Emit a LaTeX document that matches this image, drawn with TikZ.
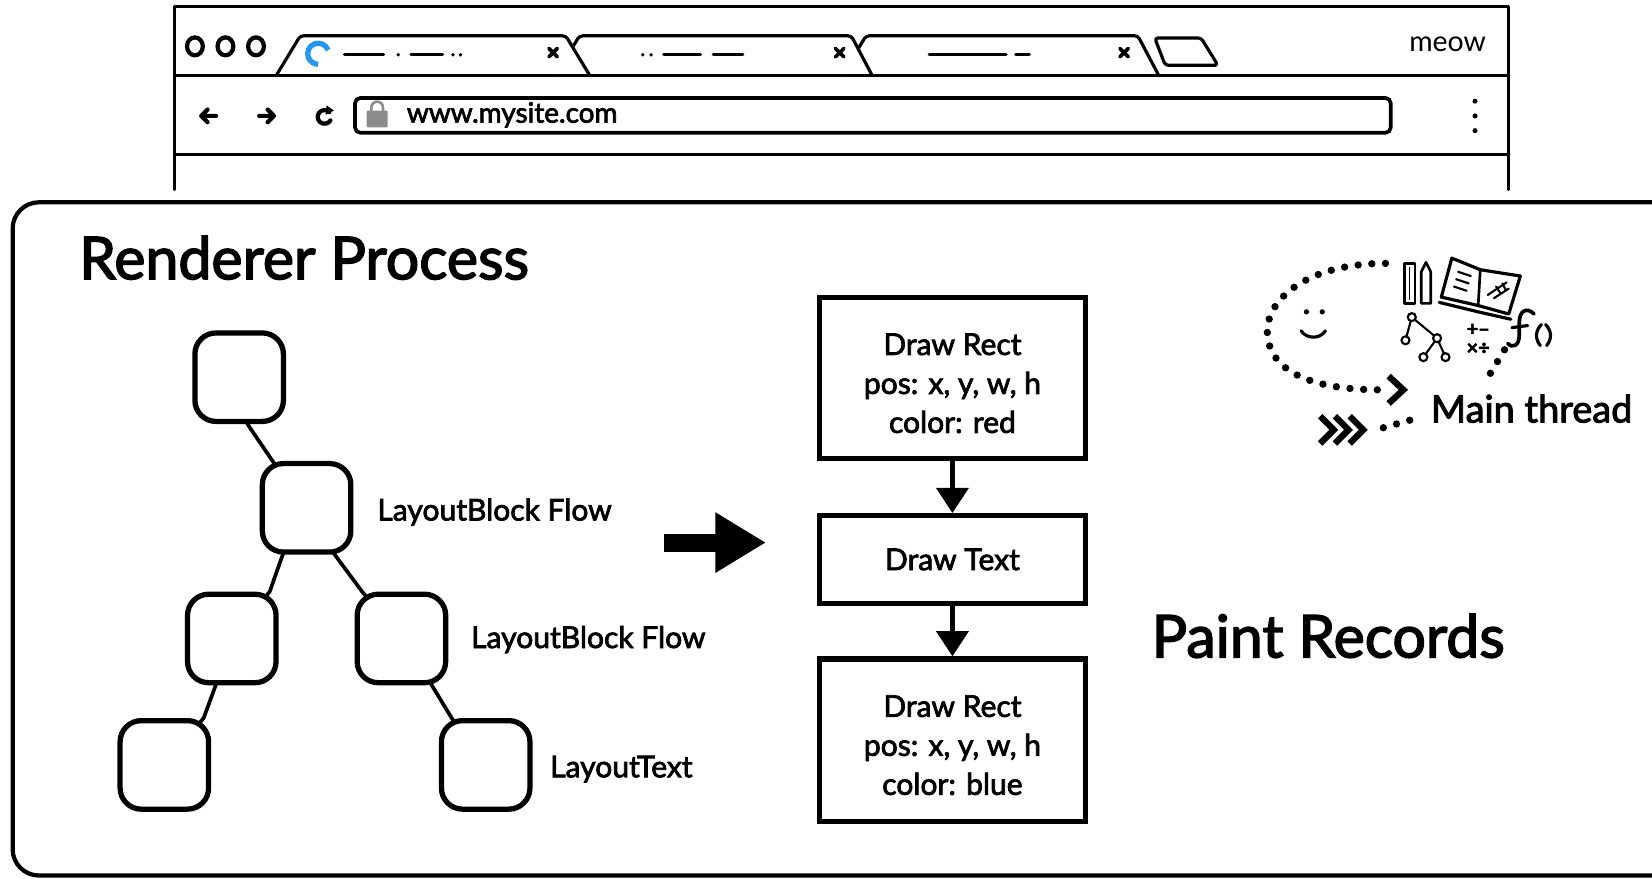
\documentclass[tikz,border=0pt]{standalone}
\usepackage{fontspec}
\setmainfont{Lato}[FakeBold=2.5]
\newfontfamily\handfont{Lato}
\usetikzlibrary{arrows.meta,backgrounds}
\definecolor{spinblue}{RGB}{33,150,243}
\definecolor{lockgray}{RGB}{140,140,140}

\begin{document}
\begin{tikzpicture}[x=1pt,y=-1pt,
  win/.style={line width=3pt, line join=round, line cap=round},
  tabshape/.style={win, fill=white, rounded corners=3pt},
  tabmark/.style={line width=3pt, line cap=round},
  xmark/.style={line width=3.5pt, line cap=round},
  navicon/.style={line width=4pt, line cap=round, line join=round},
  treebox/.style={draw, line width=5pt, fill=white, rounded corners=20pt,
    minimum width=84pt, minimum height=84pt, inner sep=0pt},
  branch/.style={line width=3.5pt},
  rec/.style={draw, line width=5pt, fill=white, minimum width=253pt,
    align=center, inner sep=0pt, font=\fontsize{28.5}{37}\selectfont},
  lbl/.style={anchor=west, inner sep=0pt, font=\fontsize{28.5}{32}\selectfont},
  heading/.style={anchor=base west, inner sep=0pt, font=\fontsize{56}{62}\selectfont},
  flow/.style={line width=5pt, -{Triangle[width=30pt,length=24pt]}},
  dotline/.style={line width=7pt, line cap=round, dash pattern=on 0pt off 13pt},
  chev/.style={line width=6pt, line join=miter, line cap=butt},
  sketch/.style={line width=2.5pt, line join=round, line cap=round}
]
\useasboundingbox (0,0) rectangle (1568,834);

% ---- browser window frame ----
\draw[win] (166,180) -- (166,6) -- (1432,6) -- (1432,180);
\draw[win] (166,147) -- (1432,147);

% traffic lights
\foreach \cx in {185,214,243}
  \draw[line width=4pt] (\cx,44) ellipse (7.5 and 8.5);

% tabs, back to front
\draw[tabshape] (799,72) -- (822,34) -- (1080,34) -- (1100,72);
\draw[tabshape] (527,72) -- (550,34) -- (808,34) -- (828,72);
\draw[tabshape] (262,72) -- (285,34) -- (537,34) -- (560,72);
\draw[win, rounded corners=3pt] (1096,36) -- (1140,36) -- (1156,62) -- (1106,62) -- cycle;
\draw[win] (166,72) -- (1432,72);

% tab contents
\draw[spinblue, line width=5pt] (302,51) ++(-20:10) arc (-20:-270:10);
\draw[tabmark] (327,52) -- (364,52);
\fill (378,52) circle (1.8);
\draw[tabmark] (390,52) -- (420,52);
\fill (430,52) circle (1.8);
\fill (437,52) circle (1.8);
\fill (610,52) circle (1.8);
\fill (618,52) circle (1.8);
\draw[tabmark] (630,52) -- (665,52);
\draw[tabmark] (677,52) -- (705,52);
\draw[tabmark] (882,52) -- (955,52);
\draw[tabmark] (964,52) -- (977,52);
\foreach \cx in {525,797,1067}
  \draw[xmark] (\cx-4,46) -- (\cx+4,54) (\cx+4,46) -- (\cx-4,54);

% toolbar
\draw[navicon] (205,110) -- (191,110) (197,104) -- (191,110) -- (197,116);
\draw[navicon] (246,110) -- (260,110) (254,104) -- (260,110) -- (254,116);
\draw[navicon] (308,111) ++(-45:6.5) arc (-45:-330:6.5);
\fill (310,100) -- (317,105) -- (309,109) -- cycle;
\draw[line width=3.5pt, rounded corners=5pt] (337,93) rectangle (1320,126);
\fill[lockgray, rounded corners=1pt] (348,105) rectangle (368,121);
\draw[lockgray, line width=2.5pt] (352.5,106) -- (352.5,102) arc (180:360:5.5) -- (363.5,106);
\node[anchor=west, inner sep=0pt, font=\fontsize{26.5}{30}\selectfont] (url) at (386,109) {www.mysite.com};
\foreach \cy in {96,110,124}
  \fill (1400,\cy) circle (2.4);
\node[font=\handfont\fontsize{27}{30}\selectfont, inner sep=0pt] (meow) at (1374,42) {meow};

% ---- renderer process panel ----
\draw[line width=4pt, rounded corners=25pt] (12,192) rectangle (1640,831);
\node[heading] (title) at (75,265) {Renderer Process};

% layout tree
\node[treebox] (root) at (227,358) {};
\node[treebox] (n2) at (291,482) {};
\node[treebox] (n3) at (220,606) {};
\node[treebox] (n4) at (381,606) {};
\node[treebox] (n5) at (156,726) {};
\node[treebox] (n6) at (461,726) {};
\begin{scope}[on background layer]
  \draw[branch] (root.center) -- (root.-80) -- (n2.126) -- (n2.center);
  \draw[branch] (n2.center) -- (n2.-117) -- (n3.51) -- (n3.center);
  \draw[branch] (n2.center) -- (n2.-59) -- (n4.130) -- (n4.center);
  \draw[branch] (n3.center) -- (n3.-109) -- (n5.50) -- (n5.center);
  \draw[branch] (n4.center) -- (n4.-57) -- (n6.126) -- (n6.center);
\end{scope}
\node[lbl] (l2) at (358,486) {LayoutBlock Flow};
\node[lbl] (l4) at (447,607) {LayoutBlock Flow};
\node[lbl] (l6) at (522,730) {LayoutText};

% transition arrow
\coordinate (bigfrom) at (630,515);
\coordinate (bigto) at (727,515);
\draw[line width=17pt, -{Triangle[width=54pt,length=48pt]}] (bigfrom) -- (bigto);

% paint records
\node[rec, minimum height=153pt] (p1) at (904,359) {\rule{0pt}{30pt}Draw Rect\\pos: x, y, w, h\\color: red};
\node[rec, minimum height=83pt] (p2) at (904,531) {Draw Text};
\node[rec, minimum height=154pt] (p3) at (904,702.5) {\rule{0pt}{30pt}Draw Rect\\pos: x, y, w, h\\color: blue};
\draw[flow] (p1.south) -- (p2.north);
\draw[flow] (p2.south) -- (p3.north);
\node[heading] (records) at (1093,624) {Paint Records};

% ---- main thread emblem ----
\draw[dotline] (1315,250) .. controls (1240,250) and (1200,285) .. (1203,318)
  .. controls (1206,355) and (1250,370) .. (1310,370);
\draw[chev] (1318,357) -- (1332,370) -- (1318,383);
\fill (1240,296) circle (2.5);
\fill (1255,296) circle (2.5);
\draw[line width=3pt, line cap=round] (1235,314) .. controls (1240,322) and (1253,322) .. (1258,314);
% binder and pencil
\draw[sketch] (1333,250) rectangle (1343,288);
\draw[sketch, line width=1.5pt] (1338,254) -- (1338,284);
\draw[sketch] (1349,288) -- (1349,258) -- (1353.5,249) -- (1358,258) -- (1358,288) -- cycle;
% open book
\draw[sketch, line width=3pt] (1368,282) -- (1378,245) -- (1405,256) -- (1443,262) -- (1432,298) -- (1403,290) -- cycle;
\draw[sketch] (1405,256) -- (1403,290);
\draw[sketch, line width=3pt] (1366,287) -- (1403,296) -- (1434,303);
\draw[sketch, line width=2pt] (1384,258) -- (1396,262) (1382,265) -- (1394,269) (1380,272) -- (1392,276);
\draw[sketch, line width=2pt] (1412,280) -- (1430,268) (1418,283) -- (1432,274) (1420,272) -- (1424,278) (1426,269) -- (1429,275);
% tree glyph
\draw[sketch, line width=2pt] (1340,301) -- (1334,323) (1340,301) -- (1364,321) -- (1351,339) (1364,321) -- (1372,339);
\foreach \p in {(1340,301),(1334,323),(1364,321),(1351,339),(1372,339)}
  \filldraw[fill=white, line width=2pt] \p circle (3.8);
\node[font=\bfseries\fontsize{19}{19}\selectfont, inner sep=0pt] (ops1) at (1403,313) {+–};
\node[font=\bfseries\fontsize{19}{19}\selectfont, inner sep=0pt] (ops2) at (1403,331) {×÷};
% hand-drawn f()
\draw[line width=3.5pt, line cap=round] (1456,298) .. controls (1449,291) and (1442,295) .. (1442,306)
  -- (1442,318) .. controls (1442,328) and (1436,331) .. (1431,326);
\draw[line width=3pt, line cap=round] (1435,311) -- (1450,309);
\draw[line width=3pt, line cap=round] (1463,308) .. controls (1457,314) and (1457,322) .. (1462,328);
\draw[line width=3pt, line cap=round] (1467,308) .. controls (1473,314) and (1473,322) .. (1468,328);
\draw[dotline] (1428,332) -- (1410,362);
% incoming chevrons
\foreach \cx in {1253,1267,1281}
  \draw[chev] (\cx,395) -- (\cx+13,408) -- (\cx,421);
\draw[dotline] (1313,406) -- (1341,398);
\node[anchor=base west, inner sep=0pt, font=\fontsize{36}{40}\selectfont] (main) at (1358,401) {Main thread};

\end{tikzpicture}
\end{document}
